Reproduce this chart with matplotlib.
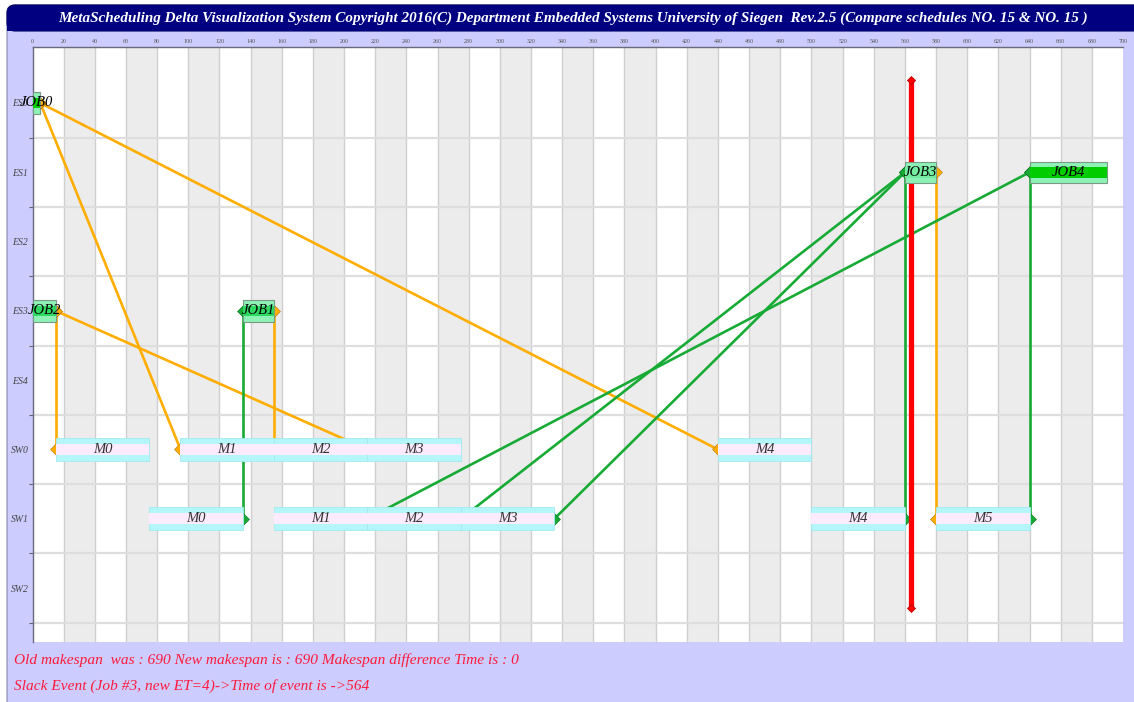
import matplotlib
matplotlib.use("Agg")
import matplotlib.pyplot as plt
from matplotlib.patches import FancyBboxPatch, Rectangle

# ---------------- data ----------------
row_labels = ['ES0', 'ES1', 'ES2', 'ES3', 'ES4', 'SW0', 'SW1', 'SW2']
x_ticks = list(range(0, 701, 20))

job_names = ['JOB0', 'JOB1', 'JOB2', 'JOB3', 'JOB4']
job_rows = [0, 3, 3, 1, 1]
job_start = [0, 135, 0, 560, 640]
job_end = [5, 155, 15, 580, 690]

msg_names = ['M0', 'M1', 'M2', 'M3', 'M4',
             'M0', 'M1', 'M2', 'M3', 'M4', 'M5']
msg_rows = [5, 5, 5, 5, 5,
            6, 6, 6, 6, 6, 6]
msg_start = [15, 95, 155, 215, 440,
             75, 155, 215, 275, 500, 580]
msg_end = [75, 155, 215, 275, 500,
           135, 215, 275, 335, 560, 640]

# job -> message (send, orange) and message -> job (receive, green)
send_links = [(0, 1), (0, 4), (2, 0), (2, 3), (1, 2), (3, 10)]
recv_links = [(5, 1), (9, 3), (10, 4), (6, 4), (7, 3), (8, 3)]

event_time = 564
old_makespan = 690
new_makespan = 690
info_line1 = f"Old makespan  was : {old_makespan} New makespan is : {new_makespan} Makespan difference Time is : {new_makespan - old_makespan}"
info_line2 = f"Slack Event (Job #3, new ET=4)->Time of event is ->{event_time}"
title = ("MetaScheduling Delta Visualization System Copyright 2016(C) Department "
         "Embedded Systems University of Siegen  Rev.2.5 (Compare schedules NO. 15 & NO. 15 )")

# ---------------- style ----------------
W, H = 1134, 702
SERIF = ['Liberation Serif', 'DejaVu Serif']
ORANGE = '#ffad00'
GREEN = '#17ab35'
job_inner_colors = ['#00cc00', '#2fd860', '#2fd860', '#74eca0', '#00cc00']

fig = plt.figure(figsize=(W / 100, H / 100), dpi=100)

# background panel in pixel coordinates
bg = fig.add_axes([0, 0, 1, 1])
bg.set_xlim(0, W)
bg.set_ylim(H, 0)
bg.axis('off')
bg.add_patch(FancyBboxPatch((7, 5), W + 20, H + 20,
                            boxstyle="round,pad=0,rounding_size=8",
                            facecolor='#ccccff', edgecolor='#8888aa', lw=0.8))
bg.add_patch(FancyBboxPatch((7, 5), W + 20, 26,
                            boxstyle="round,pad=0,rounding_size=8",
                            facecolor='#000080', edgecolor='#000060', lw=0.8))
bg.add_patch(Rectangle((7, 18), W + 20, 13, facecolor='#000080', edgecolor='none'))

t_title = bg.text(573, 18.5, title, color='white', ha='center', va='center',
                  family=SERIF, style='italic', weight='bold', fontsize=12)
t1 = bg.text(14, 660, info_line1, color='#ff1a3c', ha='left', va='center',
             family=SERIF, style='italic', fontsize=12)
t2 = bg.text(14, 686, info_line2, color='#ff1a3c', ha='left', va='center',
             family=SERIF, style='italic', fontsize=12)

renderer = fig.canvas.get_renderer()
def fit(t, target):
    w = t.get_window_extent(renderer).width
    t.set_fontsize(t.get_fontsize() * target / w)
fit(t_title, 1027)
fit(t1, 504)
t2.set_fontsize(t1.get_fontsize())

# ---------------- main axes ----------------
left, right, top, bottom = 32.5, 1123, 47, 642
ax = fig.add_axes([left / W, 1 - bottom / H, (right - left) / W, (bottom - top) / H])
ax.set_facecolor('white')
ax.set_xlim(0, 700)
ax.set_ylim(7.778, -0.808)

# alternating bands and vertical grid
for i, x0 in enumerate(x_ticks[:-1]):
    if i % 2 == 1:
        ax.axvspan(x0, x0 + 20, color='#ececec', zorder=0, lw=0)
for x in x_ticks[1:-1]:
    ax.axvline(x, color='#cfcfcf', lw=1.0, zorder=0.5)
for k in range(len(row_labels)):
    ax.axhline(k + 0.5, color='#dedede', lw=1.6, zorder=0.6)

# links (drawn below the boxes)
for j, m in send_links:
    ax.plot([job_end[j], msg_start[m]], [job_rows[j], msg_rows[m]],
            color=ORANGE, lw=1.9, zorder=2, solid_capstyle='butt')
for m, j in recv_links:
    ax.plot([msg_end[m], job_start[j]], [msg_rows[m], job_rows[j]],
            color=GREEN, lw=1.9, zorder=2, solid_capstyle='butt')

# link end markers: diamonds centred on the box edges, half hidden by the boxes
for j, m in send_links:
    ax.plot([job_end[j], msg_start[m]], [job_rows[j], msg_rows[m]], ls='none',
            marker='D', ms=6, color=ORANGE, mec='#b07800', mew=0.4, zorder=2.5)
for m, j in recv_links:
    ax.plot([msg_end[m], job_start[j]], [msg_rows[m], job_rows[j]], ls='none',
            marker='D', ms=6, color=GREEN, mec='#0a6a20', mew=0.4, zorder=2.5)

# message boxes
for n, r, s, e in zip(msg_names, msg_rows, msg_start, msg_end):
    ax.barh(r, e - s, left=s, height=0.33, color='#b4f6f9',
            edgecolor='#a2eaf0', lw=0.6, zorder=3)
    ax.barh(r, e - s, left=s, height=0.155, color='#fcebfc',
            edgecolor='none', zorder=3.1)
    ax.text((s + e) / 2, r, n, ha='center', va='center', family=SERIF,
            style='italic', fontsize=10.5, color='#333333', zorder=6)

# red event line
ax.plot([event_time, event_time], [-0.33, 7.29], color='#ff0000', lw=3.8,
        zorder=3.5, solid_capstyle='butt')
ax.plot([event_time, event_time], [-0.33, 7.29], ls='none', marker='D',
        ms=4.5, color='#ff0000', mec='#bb0000', mew=0.6, zorder=3.6)

# job boxes
for n, r, s, e, c in zip(job_names, job_rows, job_start, job_end, job_inner_colors):
    ax.barh(r, e - s, left=s, height=0.31, color='#8ef2b6',
            edgecolor='#7a9a88', lw=0.8, zorder=4)
    ax.barh(r, e - s, left=s, height=0.155, color=c,
            edgecolor='none', zorder=4.1)
    ax.text((s + e) / 2, r, n, ha='center', va='center', family=SERIF,
            style='italic', fontsize=10.5, color='black', zorder=6)

# axes decoration
ax.xaxis.tick_top()
ax.set_xticks(x_ticks)
ax.set_xticklabels([str(v) for v in x_ticks], fontsize=4.3, color='#555555',
                   family=SERIF)
ax.tick_params(axis='x', length=0, pad=2.5)
ax.set_yticks(range(len(row_labels)))
ax.set_yticklabels(row_labels, fontsize=7, color='#444444', family=SERIF,
                   style='italic')
ax.tick_params(axis='y', which='major', length=0, pad=3)
ax.set_yticks([k + 0.5 for k in range(len(row_labels))], minor=True)
ax.tick_params(axis='y', which='minor', length=3, color='#666666', width=0.8)
for side in ['bottom', 'right']:
    ax.spines[side].set_visible(False)
for side in ['top', 'left']:
    ax.spines[side].set_color('#6a6a7a')
    ax.spines[side].set_linewidth(1.0)

fig.savefig('out.png', dpi=100)
